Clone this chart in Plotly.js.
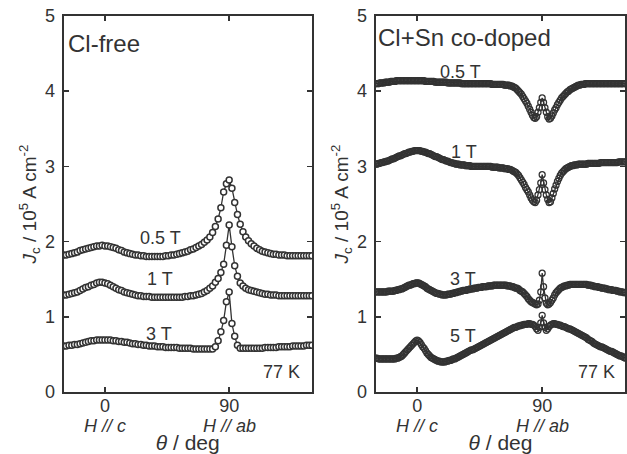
<!DOCTYPE html>
<html>
<head>
<meta charset="utf-8">
<script src="https://cdn.plot.ly/plotly-3.0.1.min.js"></script>
<style>html,body{margin:0;padding:0;background:#fff;}#chart{width:627px;height:454px;}</style>
</head>
<body>
<div id="chart"></div>
<script>
// angle (deg) grids
const angleLeft = [-30,-28,-26,-24,-22,-20,-18,-16,-14,-12,-10,-8,-6,-4,-2,0,2,4,6,8,10,12,14,16,18,20,22,24,26,28,30,32,34,36,38,40,42,44,46,48,50,52,54,56,58,60,62,64,66,68,70,72,74,76,78,80,82,84,86,88,90,92,94,96,98,100,102,104,106,108,110,112,114,116,118,120,122,124,126,128,130,132,134,136,138,140,142,144,146,148,150];
const angleRight = [-30,-29,-28,-27,-26,-25,-24,-23,-22,-21,-20,-19,-18,-17,-16,-15,-14,-13,-12,-11,-10,-9,-8,-7,-6,-5,-4,-3,-2,-1,0,1,2,3,4,5,6,7,8,9,10,11,12,13,14,15,16,17,18,19,20,21,22,23,24,25,26,27,28,29,30,31,32,33,34,35,36,37,38,39,40,41,42,43,44,45,46,47,48,49,50,51,52,53,54,55,56,57,58,59,60,61,62,63,64,65,66,67,68,69,70,71,72,73,74,75,76,77,78,79,80,81,82,83,84,85,86,87,88,89,90,91,92,93,94,95,96,97,98,99,100,101,102,103,104,105,106,107,108,109,110,111,112,113,114,115,116,117,118,119,120,121,122,123,124,125,126,127,128,129,130,131,132,133,134,135,136,137,138,139,140,141,142,143,144,145,146,147,148,149,150];

// Cl-free, Jc (10^5 A cm^-2)
const clFree_05T = [1.82,1.82,1.83,1.84,1.85,1.86,1.88,1.89,1.90,1.91,
  1.92,1.93,1.94,1.94,1.95,1.94,1.94,1.93,1.92,1.91,
  1.89,1.88,1.86,1.85,1.84,1.83,1.82,1.82,1.81,1.81,
  1.80,1.80,1.80,1.80,1.80,1.80,1.80,1.81,1.81,1.82,
  1.82,1.83,1.84,1.85,1.86,1.87,1.89,1.90,1.92,1.94,
  1.96,1.99,2.02,2.06,2.12,2.20,2.30,2.45,2.66,2.77,
  2.82,2.71,2.52,2.36,2.23,2.13,2.06,2.01,1.97,1.94,
  1.91,1.89,1.87,1.86,1.85,1.84,1.83,1.83,1.82,1.82,
  1.82,1.81,1.81,1.81,1.81,1.81,1.81,1.81,1.81,1.81,
  1.81];
const clFree_1T = [1.29,1.29,1.30,1.31,1.32,1.33,1.35,1.37,1.39,1.40,
  1.42,1.43,1.45,1.46,1.46,1.45,1.44,1.42,1.40,1.38,
  1.36,1.35,1.33,1.32,1.31,1.30,1.29,1.28,1.28,1.27,
  1.27,1.27,1.26,1.26,1.26,1.26,1.26,1.26,1.26,1.26,
  1.26,1.26,1.26,1.26,1.27,1.27,1.28,1.28,1.29,1.30,
  1.31,1.33,1.35,1.38,1.41,1.46,1.51,1.59,1.70,1.95,
  2.22,1.93,1.68,1.54,1.45,1.41,1.38,1.36,1.35,1.34,
  1.33,1.32,1.31,1.30,1.30,1.29,1.29,1.29,1.28,1.28,
  1.28,1.28,1.28,1.28,1.28,1.28,1.28,1.28,1.28,1.28,
  1.28];
const clFree_3T = [0.61,0.61,0.62,0.62,0.63,0.63,0.64,0.65,0.66,0.67,
  0.68,0.68,0.69,0.69,0.69,0.69,0.69,0.69,0.68,0.68,
  0.67,0.67,0.66,0.66,0.65,0.64,0.64,0.63,0.63,0.62,
  0.62,0.61,0.61,0.61,0.60,0.60,0.60,0.59,0.59,0.59,
  0.59,0.59,0.58,0.58,0.58,0.58,0.58,0.57,0.57,0.57,
  0.57,0.57,0.57,0.57,0.57,0.60,0.68,0.80,0.95,1.20,
  1.33,0.91,0.74,0.62,0.58,0.58,0.58,0.58,0.58,0.58,
  0.58,0.58,0.58,0.59,0.59,0.59,0.59,0.59,0.60,0.60,
  0.60,0.60,0.60,0.61,0.61,0.61,0.61,0.61,0.62,0.62,
  0.62];

// Cl+Sn co-doped, Jc (10^5 A cm^-2)
const coDoped_05T = [4.10,4.10,4.10,4.11,4.11,4.11,4.11,4.12,4.12,4.12,
  4.12,4.13,4.13,4.13,4.13,4.14,4.14,4.14,4.14,4.14,
  4.14,4.14,4.14,4.14,4.14,4.14,4.14,4.14,4.14,4.14,
  4.14,4.14,4.14,4.14,4.14,4.14,4.13,4.13,4.13,4.13,
  4.13,4.13,4.13,4.12,4.12,4.12,4.12,4.12,4.12,4.12,
  4.12,4.12,4.11,4.11,4.11,4.11,4.11,4.11,4.11,4.11,
  4.11,4.11,4.10,4.10,4.10,4.10,4.10,4.10,4.10,4.10,
  4.10,4.10,4.10,4.10,4.10,4.10,4.10,4.10,4.10,4.10,
  4.10,4.10,4.10,4.10,4.09,4.09,4.09,4.09,4.09,4.09,
  4.09,4.09,4.09,4.08,4.08,4.08,4.08,4.07,4.07,4.06,
  4.05,4.04,4.02,4.00,3.98,3.96,3.93,3.90,3.87,3.84,
  3.80,3.76,3.72,3.68,3.65,3.64,3.66,3.72,3.78,3.85,
  3.91,3.85,3.78,3.72,3.66,3.63,3.64,3.67,3.71,3.75,
  3.78,3.82,3.85,3.88,3.91,3.93,3.95,3.97,3.99,4.00,
  4.02,4.03,4.04,4.05,4.06,4.07,4.08,4.08,4.09,4.09,
  4.09,4.10,4.10,4.10,4.10,4.10,4.10,4.10,4.10,4.10,
  4.10,4.10,4.10,4.10,4.10,4.10,4.10,4.10,4.10,4.10,
  4.10,4.10,4.10,4.10,4.10,4.10,4.10,4.10,4.10,4.10,
  4.10];
const coDoped_1T = [3.03,3.03,3.04,3.04,3.05,3.05,3.06,3.06,3.07,3.07,
  3.08,3.09,3.10,3.10,3.11,3.12,3.13,3.14,3.14,3.15,
  3.16,3.17,3.17,3.18,3.19,3.19,3.20,3.20,3.21,3.21,
  3.21,3.21,3.21,3.20,3.20,3.19,3.19,3.18,3.17,3.17,
  3.16,3.15,3.14,3.13,3.13,3.12,3.11,3.10,3.09,3.09,
  3.08,3.07,3.07,3.06,3.05,3.05,3.04,3.04,3.03,3.03,
  3.03,3.02,3.02,3.02,3.02,3.01,3.01,3.01,3.01,3.00,
  3.00,3.00,3.00,3.00,3.00,3.00,3.00,3.00,3.00,3.00,
  3.00,3.00,3.00,3.00,2.99,2.99,2.99,2.99,2.99,2.98,
  2.98,2.98,2.98,2.97,2.97,2.97,2.96,2.96,2.95,2.94,
  2.93,2.92,2.90,2.88,2.85,2.82,2.79,2.76,2.72,2.69,
  2.66,2.62,2.58,2.55,2.53,2.52,2.55,2.62,2.69,2.78,
  2.89,2.78,2.69,2.62,2.56,2.52,2.53,2.58,2.64,2.70,
  2.75,2.80,2.84,2.88,2.91,2.93,2.95,2.97,2.98,2.99,
  3.00,3.01,3.01,3.02,3.02,3.02,3.03,3.03,3.03,3.03,
  3.03,3.03,3.03,3.04,3.04,3.04,3.04,3.04,3.04,3.04,
  3.04,3.04,3.05,3.05,3.05,3.05,3.05,3.05,3.05,3.05,
  3.05,3.05,3.05,3.05,3.05,3.06,3.06,3.06,3.06,3.06,
  3.06];
const coDoped_3T = [1.33,1.33,1.33,1.33,1.33,1.33,1.33,1.33,1.33,1.34,
  1.34,1.34,1.34,1.34,1.35,1.35,1.36,1.36,1.37,1.37,
  1.38,1.39,1.40,1.41,1.42,1.42,1.43,1.44,1.44,1.45,
  1.45,1.45,1.44,1.43,1.42,1.41,1.40,1.38,1.37,1.36,
  1.35,1.34,1.33,1.32,1.31,1.31,1.30,1.30,1.29,1.29,
  1.29,1.29,1.30,1.30,1.30,1.31,1.31,1.32,1.32,1.33,
  1.33,1.34,1.34,1.35,1.35,1.35,1.36,1.36,1.37,1.37,
  1.37,1.38,1.38,1.38,1.39,1.39,1.39,1.40,1.40,1.40,
  1.40,1.41,1.41,1.41,1.41,1.42,1.42,1.42,1.42,1.42,
  1.42,1.42,1.42,1.42,1.42,1.41,1.41,1.41,1.40,1.40,
  1.39,1.38,1.38,1.37,1.35,1.34,1.33,1.31,1.29,1.27,
  1.24,1.22,1.20,1.19,1.18,1.17,1.16,1.17,1.22,1.33,
  1.58,1.40,1.25,1.18,1.16,1.17,1.19,1.22,1.25,1.29,
  1.32,1.34,1.36,1.38,1.39,1.40,1.41,1.41,1.42,1.42,
  1.43,1.43,1.43,1.43,1.43,1.43,1.43,1.43,1.43,1.43,
  1.43,1.43,1.43,1.42,1.42,1.42,1.41,1.41,1.40,1.40,
  1.40,1.39,1.39,1.38,1.38,1.38,1.37,1.37,1.36,1.36,
  1.36,1.35,1.35,1.35,1.34,1.34,1.33,1.33,1.33,1.32,
  1.32];
const coDoped_5T = [0.45,0.45,0.44,0.44,0.44,0.44,0.44,0.44,0.44,0.44,
  0.44,0.44,0.44,0.44,0.44,0.45,0.45,0.46,0.47,0.48,
  0.50,0.52,0.54,0.56,0.58,0.60,0.62,0.64,0.66,0.68,
  0.69,0.68,0.66,0.63,0.60,0.58,0.55,0.52,0.50,0.48,
  0.46,0.45,0.44,0.43,0.42,0.41,0.41,0.40,0.40,0.40,
  0.40,0.41,0.41,0.42,0.42,0.43,0.44,0.44,0.45,0.46,
  0.47,0.48,0.49,0.50,0.51,0.52,0.53,0.54,0.55,0.56,
  0.56,0.57,0.58,0.59,0.60,0.61,0.62,0.63,0.64,0.65,
  0.66,0.67,0.68,0.69,0.70,0.71,0.72,0.73,0.74,0.75,
  0.76,0.77,0.78,0.79,0.80,0.81,0.82,0.83,0.84,0.85,
  0.86,0.86,0.87,0.88,0.88,0.89,0.89,0.90,0.90,0.90,
  0.91,0.91,0.90,0.90,0.89,0.87,0.84,0.82,0.86,0.92,
  1.02,0.92,0.86,0.82,0.84,0.87,0.89,0.90,0.91,0.91,
  0.90,0.90,0.89,0.89,0.88,0.87,0.87,0.86,0.85,0.84,
  0.84,0.83,0.82,0.81,0.80,0.79,0.78,0.77,0.76,0.75,
  0.74,0.73,0.72,0.70,0.69,0.68,0.67,0.65,0.64,0.63,
  0.62,0.61,0.60,0.60,0.59,0.58,0.57,0.56,0.55,0.54,
  0.54,0.53,0.52,0.51,0.50,0.49,0.48,0.48,0.47,0.46,
  0.45];

const xTickVals = [0, 90];
const xTickText = ['0', '90'];
const xSubLabels = ['<i>H // c</i>', '<i>H // ab</i>'];
const yTickVals = [0, 1, 2, 3, 4, 5];

const INK = '#333333';
const FONT = '"Liberation Sans", Arial, Helvetica, sans-serif';

function series(x, y, xa, ya, fill) {
  return {
    x: x, y: y, xaxis: xa, yaxis: ya, type: 'scatter', mode: 'lines+markers',
    line: {color: INK, width: 1.3},
    marker: {symbol: fill ? 'circle' : 'circle-open', size: 6, color: fill ? '#ffffff' : INK,
             line: {color: INK, width: fill ? 1.5 : 1.3}},
    showlegend: false, hoverinfo: 'skip'
  };
}

const traces = [
  series(angleLeft, clFree_05T, 'x', 'y', true),
  series(angleLeft, clFree_1T, 'x', 'y', true),
  series(angleLeft, clFree_3T, 'x', 'y', true),
  series(angleRight, coDoped_05T, 'x2', 'y2', false),
  series(angleRight, coDoped_1T, 'x2', 'y2', false),
  series(angleRight, coDoped_3T, 'x2', 'y2', false),
  series(angleRight, coDoped_5T, 'x2', 'y2', false)
];

function xAxis(domain, anchor) {
  return {
    domain: domain, anchor: anchor, range: [-30, 150],
    showline: true, linecolor: INK, linewidth: 2, mirror: 'ticks',
    ticks: 'inside', ticklen: 5, tickwidth: 1.5, tickcolor: INK,
    tickvals: xTickVals, ticktext: xTickText, ticklabelstandoff: -4,
    tickfont: {family: FONT, size: 18, color: INK},
    showgrid: false, zeroline: false,
    title: {text: '<i>θ</i> / deg', font: {family: FONT, size: 21, color: INK}, standoff: 23}
  };
}
function yAxis(domain, anchor) {
  return {
    domain: domain, anchor: anchor, range: [0, 5],
    showline: true, linecolor: INK, linewidth: 2, mirror: 'ticks',
    ticks: 'inside', ticklen: 5, tickwidth: 1.5, tickcolor: INK,
    tickvals: yTickVals, ticklabelstandoff: 3,
    tickfont: {family: FONT, size: 18, color: INK},
    showgrid: false, zeroline: false,
    title: {text: '<i>J</i><sub>c</sub> / 10<sup>5</sup> A cm<sup>-2</sup>', font: {family: FONT, size: 19, color: INK}, standoff: 3}
  };
}

function label(text, x, y, xref, yref, size, anchor) {
  return {text: text, x: x, y: y, xref: xref, yref: yref, showarrow: false,
    xanchor: anchor || 'center', yanchor: 'middle',
    font: {family: FONT, size: size, color: INK}};
}

const subY = 1 - 426 / 454;
const annotations = [
  label(xSubLabels[0], xTickVals[0], subY, 'x', 'paper', 18),
  label(xSubLabels[1], xTickVals[1], subY, 'x', 'paper', 18),
  label(xSubLabels[0], xTickVals[0], subY, 'x2', 'paper', 18),
  label(xSubLabels[1], xTickVals[1], subY, 'x2', 'paper', 18),
  label('Cl-free', -28, 4.64, 'x', 'y', 24, 'left'),
  label('0.5 T', 40, 2.05, 'x', 'y', 18),
  label('1 T', 40, 1.50, 'x', 'y', 18),
  label('3 T', 39, 0.77, 'x', 'y', 18),
  label('77 K', 143, 0.27, 'x', 'y', 18, 'right'),
  label('Cl+Sn co-doped', -30, 4.71, 'x2', 'y2', 24, 'left'),
  label('0.5 T', 31, 4.25, 'x2', 'y2', 18),
  label('1 T', 34, 3.19, 'x2', 'y2', 18),
  label('3 T', 33, 1.50, 'x2', 'y2', 18),
  label('5 T', 33, 0.74, 'x2', 'y2', 18),
  label('77 K', 144, 0.26, 'x2', 'y2', 18, 'right')
];

const layout = {
  width: 627, height: 454,
  margin: {l: 0, r: 0, t: 0, b: 0},
  paper_bgcolor: '#ffffff', plot_bgcolor: '#ffffff',
  font: {family: FONT, color: INK},
  xaxis: xAxis([0.1013, 0.4976], 'y'),
  yaxis: yAxis([0.1366, 0.9648], 'x'),
  xaxis2: xAxis([0.5989, 0.9976], 'y2'),
  yaxis2: yAxis([0.1366, 0.9648], 'x2'),
  annotations: annotations
};

Plotly.newPlot('chart', traces, layout, {staticPlot: true, displayModeBar: false});
</script>
</body>
</html>
